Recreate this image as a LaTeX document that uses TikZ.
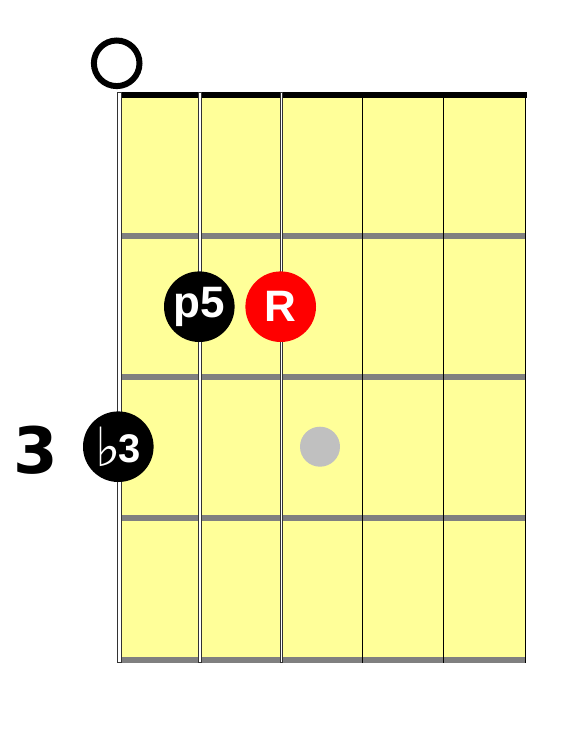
\documentclass[tikz,border=0pt]{standalone}
\usepackage{fontspec}
\setmainfont{Liberation Sans}
\newfontfamily\djv{DejaVu Sans}
\definecolor{fbyellow}{HTML}{FFFF99}
\definecolor{fretgray}{HTML}{808080}
\definecolor{dotgray}{HTML}{C0C0C0}
\definecolor{rootred}{HTML}{FF0000}
\tikzset{
  fretline/.style={fretgray, line width=6pt},
  thickstring/.style={fill=white, draw=black!80, line width=1pt},
  thinstring/.style={black, line width=1pt},
  notedot/.style={circle, inner sep=0pt, minimum size=70.6pt, text=white,
    font=\bfseries\fontsize{44}{44}\selectfont},
}
\begin{document}
\begin{tikzpicture}[x=1pt,y=-1pt]
\useasboundingbox (0,0) rectangle (586,753);
\fill[fbyellow] (118,92) rectangle (525,662);
\foreach \y in {236,377,518} \draw[fretline] (118,\y) -- (525,\y);
\fill[fretgray] (118,657) rectangle (526,662.7);
\fill[black] (118,92) rectangle (526.5,98);
\filldraw[thickstring] (117.5,92.5) rectangle (121.3,662.5);
\filldraw[thickstring] (198.5,92.5) rectangle (201.5,662.5);
\filldraw[thickstring] (280.2,92.5) rectangle (282.7,662.5);
\foreach \x in {362.9,443.5,525.8} \draw[thinstring] (\x,92) -- (\x,662.7);
\node[circle, draw=black, line width=6pt, minimum size=45.6pt, inner sep=0pt] (open) at (116.7,63.3) {};
\node[notedot, fill=black] (p5) at (199.3,306.7) {p5};
\node[notedot, fill=rootred] (root) at (280.7,306.7) {R};
\node[notedot, fill=black] (b3) at (118.3,446.7) {\raisebox{-4pt}{\djv\mdseries\fontsize{54}{54}\selectfont ♭}\kern-2pt{\fontsize{40}{40}\selectfont 3}};
\node[circle, fill=dotgray, inner sep=0pt, minimum size=40pt] (ghost) at (320,446.7) {};
\node[font=\djv\bfseries\fontsize{64}{64}\selectfont] (fretnum) at (36,450.5) {3};
\end{tikzpicture}
\end{document}
